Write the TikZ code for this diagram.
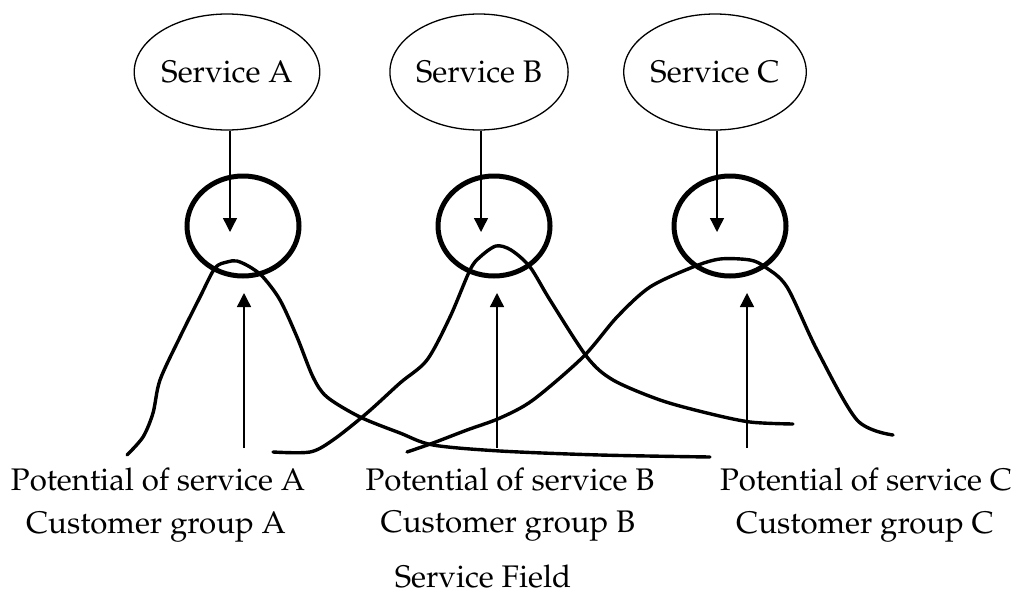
\documentclass[tikz,border=0pt]{standalone}
\usepackage[T1]{fontenc}
\usepackage{mathpazo}
\usetikzlibrary{arrows.meta,shapes.geometric}

\begin{document}
\begin{tikzpicture}[x=.5pt, y=-.5pt,
	service/.style={draw, ellipse, line width=.65pt, minimum width=85pt, minimum height=58pt, inner sep=0pt, font=\fontsize{15.6}{19}\selectfont},
	focus/.style={draw, ellipse, line width=2.5pt, minimum width=56pt, minimum height=50pt, inner sep=0pt},
	grouptext/.style={anchor=base, inner sep=0pt, font=\fontsize{15.6}{19}\selectfont},
	link/.style={line width=.7pt, -{Triangle[width=7pt,length=7pt]}},
	potential/.style={line width=1.7pt, line join=round, line cap=round}]
	\useasboundingbox (0,0) rectangle (1015,594);
	
	% services
	\node[service] (sA) at (227,72) {Service A};
	\node[service] (sB) at (479,72) {Service B};
	\node[service] (sC) at (715,72) {Service C};
	
	% focus circles
	\node[focus] (cA) at (243,226) {};
	\node[focus] (cB) at (494,226) {};
	\node[focus] (cC) at (730,226) {};
	
	% arrow ends
	\coordinate (inA) at (230,232);
	\coordinate (inB) at (481,232);
	\coordinate (inC) at (717,232);
	\coordinate (topA) at (244,293);
	\coordinate (topB) at (497,293);
	\coordinate (topC) at (747,293);
	\coordinate (baseA) at (244,448);
	\coordinate (baseB) at (497,448);
	\coordinate (baseC) at (747,448);
	
	\draw[link] (sA.south -| inA) -- (inA);
	\draw[link] (sB.south -| inB) -- (inB);
	\draw[link] (sC.south -| inC) -- (inC);
	\draw[link] (baseA) -- (topA);
	\draw[link] (baseB) -- (topB);
	\draw[link] (baseC) -- (topC);
	
	% potential curves
	\draw[potential] plot[smooth, tension=.5] coordinates {(127,455) (143,437) (153,413) (160,380) (180,337) (200,297) (215,268) (227,262) (237,261) (250,267) (263,277) (280,300) (297,337) (313,377) (327,397) (360,417) (400,433) (433,445) (500,451) (600,455) (710,457)};
	\draw[potential] plot[smooth, tension=.5] coordinates {(273,452) (310,452) (333,440) (367,413) (400,383) (427,360) (450,317) (470,270) (480,257) (496,246) (511,250) (530,267) (550,300) (587,357) (613,380) (660,400) (707,413) (750,422) (793,424)};
	\draw[potential] plot[smooth, tension=.5] coordinates {(407,452) (433,443) (467,430) (500,418) (533,400) (583,357) (617,317) (650,287) (693,267) (720,259) (750,260) (765,267) (787,287) (817,350) (857,420) (893,435)};
	
	% labels
	\node[grouptext] (pA) at (158,490) {Potential of service A};
	\node[grouptext] (gA) at (156,533) {Customer group A};
	\node[grouptext] (pB) at (510,490) {Potential of service B};
	\node[grouptext] (gB) at (508,532) {Customer group B};
	\node[grouptext] (pC) at (866,490) {Potential of service C};
	\node[grouptext] (gC) at (865,533) {Customer group C};
	\node[grouptext] (field) at (483,587) {Service Field};
\end{tikzpicture}
\end{document}
